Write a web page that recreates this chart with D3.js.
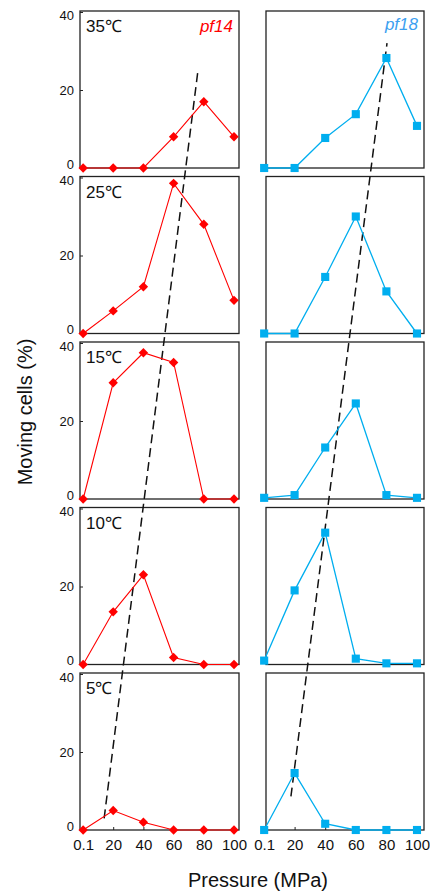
<!DOCTYPE html>
<html>
<head>
<meta charset="utf-8">
<script src="https://cdn.jsdelivr.net/npm/d3@7"></script>
<style>
  body { margin: 0; background: #fff; }
  text { font-family: "Liberation Sans", Arial, sans-serif; }
</style>
</head>
<body>
<div id="chart"></div>
<script>
// data
const pressures = [0.1, 20, 40, 60, 80, 100];
const pressureLabels = ["0.1", "20", "40", "60", "80", "100"];
const temps = ["35℃", "25℃", "15℃", "10℃", "5℃"];
const yTicks = [0, 20, 40];

// % moving cells, pf14 (left column)
const pf14_35 = [0, 0, 0, 8, 17, 8];
const pf14_25 = [0, 5.8, 12, 38.5, 28, 8.5];
const pf14_15 = [0, 29.8, 37.5, 35, 0, 0];
const pf14_10 = [0, 13.5, 23, 1.8, 0, 0];
const pf14_5  = [0, 5, 2, 0, 0, 0];

// % moving cells, pf18 (right column)
const pf18_35 = [0, 0, 7.7, 13.8, 28.2, 10.8];
const pf18_25 = [0, 0, 14.5, 30, 10.8, 0];
const pf18_15 = [0.3, 1, 13.2, 24.5, 1, 0.3];
const pf18_10 = [1, 19, 33.8, 1.5, 0.3, 0.3];
const pf18_5  = [0, 14.6, 1.6, 0, 0, 0];

// dashed trend lines through the optimum pressure (panel index, pressure, value)
const trend14 = [{panel: 4, p: 14, v: 3}, {panel: 0, p: 76, v: 24.6}];
const trend18 = [{panel: 4, p: 17.6, v: 8.6}, {panel: 0, p: 80.4, v: 32}];

const pf14 = [pf14_35, pf14_25, pf14_15, pf14_10, pf14_5];
const pf18 = [pf18_35, pf18_25, pf18_15, pf18_10, pf18_5];

const width = 430, height = 894;
const red = "#ff0000", blue = "#00aeef";

const svg = d3.select("#chart").append("svg")
    .attr("width", width)
    .attr("height", height);

// layout
const panelH = 157, step = 165.5, top0 = 11;
const cols = [
    {box: [80, 239], range: [83, 234], data: pf14, color: red},
    {box: [266, 424], range: [264, 417], data: pf18, color: blue}
];

const yScales = temps.map(function(t, i) {
    let top = top0 + i * step;
    return d3.scaleLinear().domain([0, 40]).range([top + panelH, top + 1]);
});

cols.forEach(function(c, ci) {
    c.x = d3.scaleLinear().domain([0, 100]).range(c.range);
});

// panels
temps.forEach(function(t, i) {
    let top = top0 + i * step;
    let y = yScales[i];

    cols.forEach(function(c, ci) {
        svg.append("rect")
            .attr("x", c.box[0])
            .attr("y", top)
            .attr("width", c.box[1] - c.box[0])
            .attr("height", panelH)
            .attr("fill", "none")
            .attr("stroke", "#222")
            .attr("stroke-width", 1.3);

        if (i == temps.length - 1) {
            let ax = svg.append("g")
                .attr("transform", `translate(0, ${top + panelH})`)
                .call(d3.axisBottom(c.x).tickValues(pressures)
                    .tickFormat(function(d, k) { return pressureLabels[k]; })
                    .tickSize(-3).tickPadding(9));
            ax.select(".domain").remove();
            ax.selectAll("line").attr("stroke", "#222");
            ax.selectAll("text")
                .attr("fill", "#111")
                .style("font-size", "15px")
                .style("font-family", "Liberation Sans, Arial, sans-serif");
        }
    });

    // y axis only on the left column
    let yAx = svg.append("g")
        .attr("transform", `translate(${cols[0].box[0]}, 0)`)
        .call(d3.axisLeft(y).tickValues(yTicks).tickSize(-3).tickPadding(6));
    yAx.select(".domain").remove();
    yAx.selectAll("line").attr("stroke", "#222");
    yAx.selectAll("text")
        .attr("fill", "#111")
        .attr("y", function(d) { return d == 0 ? -4 : (d == 40 ? 3 : 0); })
        .style("font-size", "13px")
        .style("font-family", "Liberation Sans, Arial, sans-serif");

    svg.append("text")
        .attr("x", 86)
        .attr("y", top + 21)
        .style("font-size", "17px")
        .attr("fill", "#111")
        .text(t);
});

// trend lines
function trendLine(pts, x) {
    svg.append("line")
        .attr("x1", x(pts[0].p))
        .attr("y1", yScales[pts[0].panel](pts[0].v))
        .attr("x2", x(pts[1].p))
        .attr("y2", yScales[pts[1].panel](pts[1].v))
        .attr("stroke", "#111")
        .attr("stroke-width", 1.5)
        .attr("stroke-dasharray", "9,5");
}
trendLine(trend14, cols[0].x);
trendLine(trend18, cols[1].x);

// series
cols.forEach(function(c, ci) {
    c.data.forEach(function(vals, i) {
        let y = yScales[i];
        let pts = pressures.map(function(p, k) { return {p: p, v: vals[k]}; });

        svg.append("path")
            .datum(pts)
            .attr("fill", "none")
            .attr("stroke", c.color)
            .attr("stroke-width", ci == 0 ? 1.1 : 1.3)
            .attr("d", d3.line()
                .x(function(d) { return c.x(d.p); })
                .y(function(d) { return y(d.v); }));

        svg.selectAll(null)
            .data(pts)
            .enter()
            .append("path")
            .attr("transform", function(d) {
                return `translate(${c.x(d.p)},${y(d.v)})` + (ci == 0 ? " rotate(45)" : "");
            })
            .attr("d", d3.symbol().type(d3.symbolSquare).size(ci == 0 ? 44 : 66))
            .attr("fill", c.color);
    });
});

// series names
svg.append("text")
    .attr("x", 233).attr("y", 32)
    .attr("text-anchor", "end")
    .style("font-size", "17px")
    .style("font-style", "italic")
    .attr("fill", red)
    .text("pf14");

svg.append("text")
    .attr("x", 418).attr("y", 30)
    .attr("text-anchor", "end")
    .style("font-size", "17px")
    .style("font-style", "italic")
    .attr("fill", "#3d9ff0")
    .text("pf18");

// axis titles
svg.append("text")
    .attr("x", 258).attr("y", 887)
    .attr("text-anchor", "middle")
    .style("font-size", "20px")
    .attr("fill", "#111")
    .text("Pressure (MPa)");

svg.append("text")
    .attr("transform", "translate(32, 412) rotate(-90)")
    .attr("text-anchor", "middle")
    .style("font-size", "20px")
    .attr("fill", "#111")
    .text("Moving cells (%)");
</script>
</body>
</html>
